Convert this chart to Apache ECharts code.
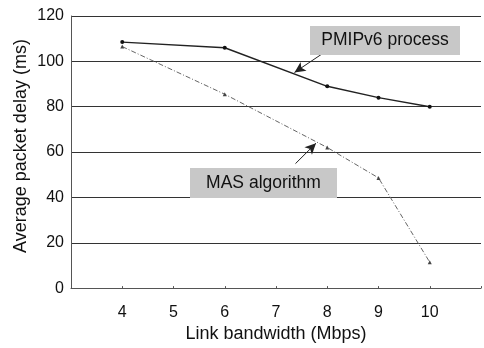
<!DOCTYPE html>
<html><head><meta charset="utf-8">
<script src="https://cdn.jsdelivr.net/npm/echarts@6/dist/echarts.min.js"></script>
<style>html,body{margin:0;padding:0;background:#fff}#c{width:484px;height:348px}</style>
</head><body><div id="c"></div>
<script>
const bandwidth = [4, 6, 8, 9, 10];
const pmipDelay = [108.5, 106, 89, 84, 80];
const masDelay = [106.5, 85.5, 62, 48.6, 11.4];
const xTicks = [4, 5, 6, 7, 8, 9, 10];
const yTicks = [0, 20, 40, 60, 80, 100, 120];
const pmipArrow = [[7.9, 103.3], [7.36, 95.1]];
const masArrow = [[7.38, 54.9], [7.78, 63.9]];

const font = '"Liberation Sans", Arial, sans-serif';
const chart = echarts.init(document.getElementById('c'));
chart.setOption({
  animation: false,
  backgroundColor: '#fff',
  grid: { left: 71, top: 16, width: 420, height: 280 },
  xAxis: {
    type: 'value', min: 3, max: 11, interval: 1,
    name: 'Link bandwidth (Mbps)', nameLocation: 'middle', nameGap: 30,
    nameTextStyle: { fontFamily: font, fontSize: 18, color: '#111' },
    axisLine: { lineStyle: { color: '#555', width: 1 } },
    axisTick: { show: true, inside: true, length: 2, lineStyle: { color: '#555' } },
    axisLabel: { fontFamily: font, fontSize: 16, color: '#111', margin: 16,
      formatter: v => xTicks.indexOf(v) >= 0 ? String(v) : '' },
    splitLine: { show: false }
  },
  yAxis: {
    type: 'value', min: 0, max: 120, interval: 20,
    axisLine: { show: true, lineStyle: { color: '#555', width: 1 } },
    axisTick: { show: false },
    axisLabel: { fontFamily: font, fontSize: 16, color: '#111', margin: 7,
      formatter: v => yTicks.indexOf(v) >= 0 ? String(v) : '' },
    splitLine: { show: true, lineStyle: { color: '#333', width: 1 } }
  },
  series: [
    {
      name: 'PMIPv6 process', type: 'line',
      data: bandwidth.map((x, i) => [x, pmipDelay[i]]),
      symbol: 'circle', symbolSize: 4,
      itemStyle: { color: '#111' },
      lineStyle: { color: '#222', width: 1.4 },
      markLine: {
        silent: true, symbol: ['none', 'arrow'], symbolSize: [8, 11],
        label: { show: false },
        lineStyle: { color: '#222', width: 1, type: 'solid' },
        data: [[{ coord: pmipArrow[0] }, { coord: pmipArrow[1] }]]
      }
    },
    {
      name: 'MAS algorithm', type: 'line',
      data: bandwidth.map((x, i) => [x, masDelay[i]]),
      symbol: 'triangle', symbolSize: 4,
      itemStyle: { color: '#444' },
      lineStyle: { color: '#666', width: 1, type: [5, 2, 1, 2] },
      markLine: {
        silent: true, symbol: ['none', 'arrow'], symbolSize: [8, 11],
        label: { show: false },
        lineStyle: { color: '#222', width: 1, type: 'solid' },
        data: [[{ coord: masArrow[0] }, { coord: masArrow[1] }]]
      }
    }
  ],
  graphic: [
    { type: 'text', x: 21, y: 146, rotation: Math.PI / 2, style: { text: 'Average packet delay (ms)', fontFamily: font, fontSize: 18, fill: '#111', align: 'center', verticalAlign: 'middle' } },
    { type: 'rect', shape: { x: 310, y: 26, width: 150, height: 29 }, style: { fill: '#c8c8c8' }, z: 50 },
    { type: 'text', x: 385, y: 40.5, style: { text: 'PMIPv6 process', fontFamily: font, fontSize: 17.5, fill: '#111', align: 'center', verticalAlign: 'middle' }, z: 51 },
    { type: 'rect', shape: { x: 190, y: 168, width: 147, height: 30 }, style: { fill: '#c8c8c8' }, z: 50 },
    { type: 'text', x: 263.5, y: 183, style: { text: 'MAS algorithm', fontFamily: font, fontSize: 17.5, fill: '#111', align: 'center', verticalAlign: 'middle' }, z: 51 }
  ]
});
</script></body></html>
